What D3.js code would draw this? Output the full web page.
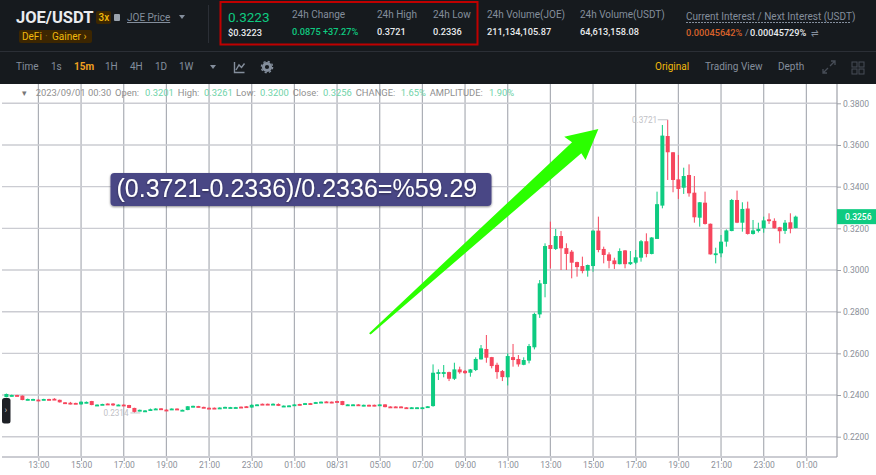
<!DOCTYPE html>
<html>
<head>
<meta charset="utf-8">
<script src="https://cdn.jsdelivr.net/npm/d3@7"></script>
<style>
  html, body { margin: 0; padding: 0; background: #fff; }
  svg { display: block; font-family: Roboto, sans-serif; }
  .axis text { font-family: Roboto, sans-serif; }
</style>
</head>
<body>
<svg id="chart" width="876" height="475"></svg>
<script>
// candles are 15 minutes apart, first one at 08/30 11:30
const opens = [
  .2390,.2393,.2400,.2397,.2376,.2376,.2378,.2376,.2381,.2382,
  .2377,.2365,.2363,.2362,.2355,.2361,.2371,.2350,.2353,.2359,
  .2359,.2350,.2354,.2352,.2338,.2323,.2321,.2325,.2330,.2336,
  .2330,.2330,.2335,.2325,.2328,.2342,.2347,.2343,.2339,.2339,
  .2336,.2339,.2338,.2338,.2344,.2346,.2340,.2351,.2358,.2358,
  .2355,.2357,.2344,.2345,.2349,.2357,.2355,.2361,.2360,.2362,
  .2369,.2368,.2371,.2371,.2349,.2349,.2355,.2347,.2353,.2353,
  .2349,.2355,.2345,.2345,.2345,.2341,.2335,.2335,.2335,.2340,
  .2347,.2502,.2502,.2510,.2478,.2523,.2516,.2507,.2520,.2571,
  .2621,.2582,.2545,.2515,.2485,.2582,.2573,.2545,.2565,.2629,
  .2787,.2933,.3120,.3101,.3163,.3105,.3088,.3038,.3019,.2997,
  .3019,.3189,.3101,.3075,.3046,.3028,.3094,.3028,.3035,.3059,
  .3138,.3077,.3149,.3309,.3643,.3565,.3435,.3395,.3456,.3371,
  .3251,.3323,.3222,.3072,.3080,.3136,.3187,.3336,.3227,.3295,
  .3173,.3187,.3200,.3243,.3236,.3205,.3188,.3229,.3201
];
const highs = [
  .2407,.2402,.2401,.2398,.2383,.2382,.2379,.2382,.2382,.2385,
  .2378,.2366,.2367,.2363,.2369,.2369,.2372,.2355,.2358,.2360,
  .2361,.2355,.2355,.2353,.2339,.2330,.2328,.2335,.2337,.2337,
  .2332,.2336,.2336,.2330,.2347,.2349,.2348,.2344,.2340,.2340,
  .2341,.2344,.2343,.2343,.2345,.2347,.2355,.2356,.2359,.2359,
  .2360,.2360,.2350,.2351,.2356,.2358,.2362,.2362,.2367,.2369,
  .2370,.2369,.2372,.2372,.2356,.2356,.2356,.2354,.2354,.2354,
  .2356,.2356,.2346,.2346,.2346,.2342,.2342,.2342,.2342,.2347,
  .2547,.2523,.2544,.2512,.2555,.2536,.2520,.2525,.2581,.2640,
  .2688,.2583,.2555,.2520,.2600,.2645,.2592,.2581,.2645,.2795,
  .2952,.3128,.3232,.3197,.3187,.3128,.3096,.3040,.3064,.3026,
  .3190,.3256,.3112,.3085,.3059,.3104,.3096,.3091,.3096,.3144,
  .3176,.3158,.3376,.3696,.3721,.3566,.3552,.3491,.3507,.3451,
  .3326,.3376,.3223,.3107,.3168,.3195,.3341,.3381,.3325,.3328,
  .3240,.3227,.3256,.3272,.3248,.3207,.3240,.3272,.3261
];
const lows = [
  .2389,.2393,.2394,.2375,.2375,.2375,.2373,.2375,.2375,.2376,
  .2364,.2359,.2355,.2357,.2354,.2360,.2351,.2349,.2352,.2354,
  .2347,.2349,.2349,.2337,.2314,.2322,.2319,.2324,.2329,.2331,
  .2325,.2329,.2329,.2324,.2327,.2341,.2341,.2339,.2335,.2335,
  .2335,.2338,.2337,.2337,.2340,.2342,.2339,.2350,.2354,.2354,
  .2354,.2347,.2343,.2344,.2348,.2350,.2354,.2354,.2359,.2361,
  .2362,.2361,.2364,.2351,.2348,.2348,.2348,.2346,.2346,.2346,
  .2348,.2341,.2338,.2338,.2338,.2334,.2334,.2334,.2334,.2339,
  .2344,.2472,.2485,.2467,.2472,.2502,.2502,.2488,.2515,.2570,
  .2555,.2528,.2478,.2467,.2446,.2536,.2536,.2543,.2552,.2619,
  .2770,.2869,.3008,.3096,.3000,.3000,.2960,.2968,.2984,.2968,
  .2992,.3085,.3032,.3008,.3005,.3027,.3008,.3024,.3028,.3040,
  .3061,.3075,.3149,.3296,.3432,.3373,.3341,.3365,.3352,.3227,
  .3208,.3218,.3074,.3032,.3061,.3112,.3186,.3225,.3184,.3170,
  .3170,.3180,.3179,.3221,.3199,.3128,.3173,.3176,.3200
];
const closes = [
  .2405,.2400,.2395,.2376,.2381,.2381,.2374,.2381,.2376,.2377,
  .2365,.2361,.2357,.2358,.2368,.2367,.2352,.2354,.2357,.2355,
  .2354,.2354,.2350,.2338,.2319,.2329,.2326,.2332,.2335,.2332,
  .2326,.2335,.2330,.2329,.2346,.2348,.2342,.2340,.2336,.2336,
  .2340,.2343,.2342,.2342,.2341,.2343,.2353,.2355,.2355,.2355,
  .2358,.2348,.2349,.2350,.2355,.2351,.2361,.2355,.2366,.2368,
  .2363,.2362,.2365,.2352,.2355,.2355,.2349,.2353,.2347,.2347,
  .2355,.2342,.2339,.2339,.2339,.2335,.2341,.2341,.2341,.2346,
  .2507,.2510,.2510,.2478,.2523,.2509,.2505,.2523,.2573,.2624,
  .2579,.2539,.2510,.2486,.2587,.2568,.2547,.2568,.2635,.2789,
  .2936,.3115,.3101,.3163,.3104,.3077,.3035,.3014,.2995,.3024,
  .3189,.3096,.3072,.3044,.3028,.3091,.3028,.3038,.3061,.3138,
  .3077,.3156,.3316,.3645,.3565,.3432,.3389,.3451,.3368,.3253,
  .3325,.3221,.3075,.3080,.3136,.3190,.3336,.3227,.3293,.3173,
  .3190,.3197,.3238,.3236,.3200,.3186,.3227,.3198,.3256
];

const priceTicks = [.38, .36, .34, .32, .30, .28, .26, .24, .22];
const timeTickIndex = [6, 14, 22, 30, 38, 46, 54, 62, 70, 78, 86, 94, 102, 110, 118, 126, 134, 142, 150];
const timeTickLabels = ["13:00", "15:00", "17:00", "19:00", "21:00", "23:00", "01:00", "08/31", "05:00", "07:00",
  "09:00", "11:00", "13:00", "15:00", "17:00", "19:00", "21:00", "23:00", "01:00"];

// arrow annotation as [candle index, price]
const arrowPoints = [[68.0, .2697], [106.06, .3613], [104.6, .3640], [111, .3677], [108.6, .3528], [107.8, .3560], [68.3, .2691]];

const GREEN = "#0ecb81", RED = "#f6465d", GOLD = "#f0b90b", DARK = "#161a1e";
const GREY = "#848e9c", LIGHT = "#eaecef";

const svg = d3.select("#chart");
const plot = { left: 2, right: 837, top: 84, bottom: 457 };

const x = d3.scaleLinear().domain([0, 148]).range([6.4, 795.7]);
const y = d3.scaleLinear().domain([.22, .38]).range([436.7, 103.3]);

// header + toolbar
svg.append("rect").attr("width", 876).attr("height", 84).attr("fill", DARK);
svg.append("line").attr("x1", 0).attr("x2", 876).attr("y1", 51.5).attr("y2", 51.5).attr("stroke", "#2b2f36");
svg.append("line").attr("x1", 208.5).attr("x2", 208.5).attr("y1", 5).attr("y2", 43).attr("stroke", "#2b2f36");

function label(px, py, str, size, fill, weight) {
  return svg.append("text").attr("x", px).attr("y", py).text(str)
    .attr("font-size", size).attr("fill", fill).attr("font-weight", weight || 400);
}

label(16, 23, "JOE/USDT", 16.5, LIGHT, 700);
svg.append("rect").attr("x", 96).attr("y", 11).attr("width", 15).attr("height", 13).attr("rx", 2).attr("fill", "#3c2601");
label(98.5, 21, "3x", 10, GOLD, 500);
svg.append("rect").attr("x", 114).attr("y", 14).attr("width", 6).attr("height", 7).attr("rx", 1).attr("fill", "#9aa3ae");
label(127, 21, "JOE Price", 10, GREY).attr("text-decoration", "underline");
svg.append("path").attr("d", "M179 15h6l-3 4z").attr("fill", GREY);
svg.append("rect").attr("x", 19).attr("y", 30).attr("width", 73).attr("height", 13).attr("rx", 2).attr("fill", "#3c2601");
label(22, 40, "DeFi", 10, GOLD);
label(45, 40, "·", 10, "#8a6a10");
label(52, 40, "Gainer ›", 10, GOLD);

svg.append("rect").attr("x", 220.5).attr("y", 2).attr("width", 257).attr("height", 42.5)
  .attr("fill", "none").attr("stroke", "#c00000").attr("stroke-width", 2);

label(228, 22, "0.3223", 13.5, GREEN, 400);
label(228, 36, "$0.3223", 9.2, LIGHT, 500);
label(292, 18, "24h Change", 10, GREY);
label(292, 35, "0.0875 +37.27%", 9.2, GREEN, 500);
label(377, 18, "24h High", 10, GREY);
label(377, 35, "0.3721", 9.2, LIGHT, 500);
label(433, 18, "24h Low", 10, GREY);
label(433, 35, "0.2336", 9.2, LIGHT, 500);
label(487, 18, "24h Volume(JOE)", 10, GREY);
label(487, 35, "211,134,105.87", 9.2, LIGHT, 500);
label(580, 18, "24h Volume(USDT)", 10, GREY);
label(580, 35, "64,613,158.08", 9.2, LIGHT, 500);
label(686, 20, "Current Interest / Next Interest (USDT)", 10, GREY);
svg.append("line").attr("x1", 686).attr("x2", 851).attr("y1", 22.5).attr("y2", 22.5)
  .attr("stroke", GREY).attr("stroke-dasharray", "2 1");
label(686, 36, "0.00045642%", 9.2, "#d9622b", 500);
label(745, 36, "/", 9.2, GREY);
label(750, 36, "0.00045729%", 9.2, LIGHT, 500);
label(811, 36, "⇌", 9, GREY);

label(16, 70, "Time", 10, GREY);
label(51, 70, "1s", 10, GREY);
label(74, 70, "15m", 10, "#f0a020", 700);
label(105, 70, "1H", 10, GREY);
label(130, 70, "4H", 10, GREY);
label(155, 70, "1D", 10, GREY);
label(179, 70, "1W", 10, GREY);
svg.append("path").attr("d", "M210 65h6l-3 4z").attr("fill", GREY);
svg.append("path").attr("d", "M234.5 62v10.5h10M236 70l3-5 2.5 2.5 3-4").attr("fill", "none").attr("stroke", GREY).attr("stroke-width", 1.4);
svg.append("circle").attr("cx", 267).attr("cy", 67).attr("r", 3.6).attr("fill", "none").attr("stroke", GREY).attr("stroke-width", 3);
svg.append("circle").attr("cx", 267).attr("cy", 67).attr("r", 5.6).attr("fill", "none").attr("stroke", GREY).attr("stroke-width", 1.4).attr("stroke-dasharray", "2.2 2.2");

label(655, 70, "Original", 10, GOLD);
label(705, 70, "Trading View", 10, GREY);
label(778, 70, "Depth", 10, GREY);
svg.append("path").attr("d", "M823 73l5-5M830 66l5-5M831 61h4v4M823 69v4h4").attr("fill", "none").attr("stroke", "#474d57").attr("stroke-width", 1.3);
[[852, 62], [859, 62], [852, 69], [859, 69]].forEach(d => {
  svg.append("rect").attr("x", d[0]).attr("y", d[1]).attr("width", 5).attr("height", 5)
    .attr("fill", "none").attr("stroke", "#474d57");
});

// grid
svg.append("g").selectAll("line").data(timeTickIndex).join("line")
  .attr("x1", d => x(d)).attr("x2", d => x(d))
  .attr("y1", plot.top).attr("y2", plot.bottom)
  .attr("stroke", "#abaeb5").attr("stroke-width", 1.2);
svg.append("g").selectAll("line").data(priceTicks).join("line")
  .attr("x1", plot.left).attr("x2", plot.right)
  .attr("y1", d => y(d)).attr("y2", d => y(d))
  .attr("stroke", "#cbccd2").attr("stroke-width", 1.4);

// legend row
const legendBits = [
  [22, "▾", "#777"], [35.7, "2023/09/01 00:30", "#8f8f8f"],
  [115, "Open:", "#8f8f8f"], [145, "0.3201", "#6fd3a8"],
  [177.7, "High:", "#8f8f8f"], [204, "0.3261", "#6fd3a8"],
  [236, "Low:", "#8f8f8f"], [260, "0.3200", "#6fd3a8"],
  [292.7, "Close:", "#8f8f8f"], [323, "0.3256", "#6fd3a8"],
  [355.7, "CHANGE:", "#8f8f8f"], [400.7, "1.65%", "#6fd3a8"],
  [429.7, "AMPLITUDE:", "#8f8f8f"], [489, "1.90%", "#6fd3a8"]
];
svg.append("g").selectAll("text").data(legendBits).join("text")
  .attr("x", d => d[0]).attr("y", 96).text(d => d[1])
  .attr("font-size", 9.4).attr("fill", d => d[2]);

// axes
const xAxis = d3.axisBottom(x).tickValues(timeTickIndex).tickFormat((d, i) => timeTickLabels[i]).tickSize(4).tickSizeOuter(0);
const xg = svg.append("g").attr("class", "axis").attr("transform", `translate(0,${plot.bottom})`).call(xAxis);
xg.select(".domain").remove();
xg.selectAll("line").attr("stroke", "#9ea1a8");
xg.selectAll("text").attr("font-size", 8.5).attr("fill", "#8b9099").attr("dy", "0.62em").attr("y", 6);
svg.append("line").attr("x1", plot.left).attr("x2", plot.right).attr("y1", plot.bottom).attr("y2", plot.bottom)
  .attr("stroke", "#cbccd2").attr("stroke-width", 2);

const yAxis = d3.axisRight(y).tickValues(priceTicks).tickFormat(d3.format(".4f")).tickSize(4).tickSizeOuter(0);
const yg = svg.append("g").attr("class", "axis").attr("transform", `translate(${plot.right},0)`).call(yAxis);
yg.select(".domain").remove();
yg.selectAll("line").attr("stroke", "#9ea1a8");
yg.selectAll("text").attr("font-size", 8.5).attr("fill", "#8b9099").attr("x", 6);
svg.append("line").attr("x1", plot.right).attr("x2", plot.right).attr("y1", plot.top).attr("y2", plot.bottom)
  .attr("stroke", "#9ea1a8").attr("stroke-width", 1.2);

// candles
const candles = closes.map((c, i) => ({ i, o: opens[i], h: highs[i], l: lows[i], c }));
const colour = d => (d.c >= d.o ? GREEN : RED);
const bodyW = 4;
const cg = svg.append("g");
cg.selectAll("line").data(candles).join("line")
  .attr("x1", d => x(d.i)).attr("x2", d => x(d.i))
  .attr("y1", d => y(d.h)).attr("y2", d => y(d.l))
  .attr("stroke", colour).attr("stroke-width", 1);
cg.selectAll("rect").data(candles).join("rect")
  .attr("x", d => x(d.i) - bodyW / 2).attr("width", bodyW)
  .attr("y", d => y(Math.max(d.o, d.c)))
  .attr("height", d => Math.max(1.8, Math.abs(y(d.o) - y(d.c))))
  .attr("fill", colour);

// high / low markers
const hi = d3.greatest(candles, d => d.h), lo = d3.least(candles, d => d.l);
label(x(hi.i) - 35.7, y(hi.h) + 3, d3.format(".4f")(hi.h), 8.2, "#bfc1c6");
svg.append("line").attr("x1", x(hi.i) - 10).attr("x2", x(hi.i)).attr("y1", y(hi.h)).attr("y2", y(hi.h)).attr("stroke", "#c4c6ca");
label(x(lo.i) - 31, y(lo.l) + 3, d3.format(".4f")(lo.l), 8.2, "#bfc1c6");
svg.append("line").attr("x1", x(lo.i) - 4).attr("x2", x(lo.i) + 6).attr("y1", y(lo.l)).attr("y2", y(lo.l)).attr("stroke", "#c4c6ca");

// last price tag
const last = closes[closes.length - 1];
svg.append("rect").attr("x", plot.right).attr("y", y(last) - 7.5).attr("width", 39).attr("height", 15).attr("fill", GREEN);
label(845, y(last) + 3, d3.format(".4f")(last), 8.5, "#fff", 500);

// left handle
svg.append("rect").attr("x", 2).attr("y", 398).attr("width", 8.5).attr("height", 25.5).attr("rx", 2.5).attr("fill", "#1e2026");
label(4.5, 413, "›", 9, "#c9ccd1");

// annotation box + arrow
const shadow = svg.append("defs").append("filter").attr("id", "soft").attr("x", "-10%").attr("y", "-30%").attr("width", "120%").attr("height", "160%");
shadow.append("feDropShadow").attr("dx", 0).attr("dy", 1).attr("stdDeviation", 1.2).attr("flood-color", "#000").attr("flood-opacity", .45);
svg.append("rect").attr("x", 110.5).attr("y", 173).attr("width", 381).attr("height", 33).attr("rx", 4)
  .attr("fill", "#4a4685").attr("filter", "url(#soft)");
svg.append("text").attr("x", 116.5).attr("y", 197).text("(0.3721-0.2336)/0.2336=%59.29")
  .attr("font-family", "'Liberation Sans', sans-serif").attr("font-size", 25).attr("fill", "#fff").attr("filter", "url(#soft)");

const arrowLine = d3.line().x(d => x(d[0])).y(d => y(d[1]));
svg.append("path").attr("d", arrowLine(arrowPoints) + "Z").attr("fill", "#2bff00");
</script>
</body>
</html>
